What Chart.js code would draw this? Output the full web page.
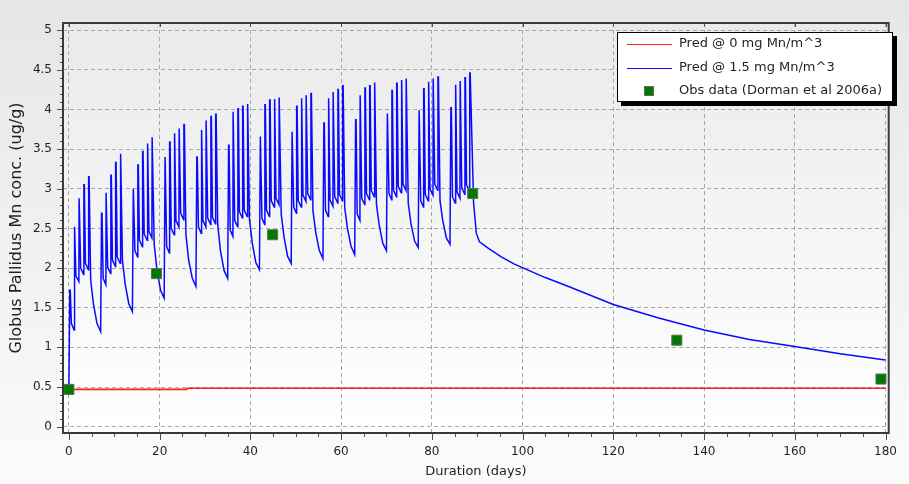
<!DOCTYPE html>
<html>
<head>
<meta charset="utf-8">
<script src="https://cdn.jsdelivr.net/npm/chart.js@4.4.1/dist/chart.umd.min.js"></script>
<style>
  html, body { margin: 0; padding: 0; background: #fff; }
  #wrap { width: 909px; height: 484px; }
</style>
</head>
<body>
<div id="wrap"><canvas id="mnChart" width="909" height="484"></canvas></div>
<script>
// ---- data ----
// red line: unexposed prediction
const baseDays = [0, 26, 26.1, 180];
const baseConc = [0.47, 0.47, 0.485, 0.485];

// blue line: 13 exposure weeks, 5 exposure days each
const weekStarts = [0, 7, 14, 21, 28, 35, 42, 49, 56, 63, 70, 77, 84];
const doseOffsets = [0.2, 1.2, 2.25, 3.3, 4.35];
const peakHold = 0.1;   // width of each spike top, days
const weekStartLevel = [0.48, 1.20, 1.45, 1.62, 1.77, 1.87, 1.98, 2.06, 2.12, 2.17, 2.22, 2.26, 2.30];
const weekPeaks = [
    [1.72, 2.52, 2.88, 3.05, 3.15],
    [2.69, 2.95, 3.17, 3.33, 3.44],
    [3.00, 3.30, 3.47, 3.57, 3.65],
    [3.40, 3.59, 3.70, 3.76, 3.81],
    [3.40, 3.74, 3.86, 3.91, 3.94],
    [3.55, 3.97, 4.01, 4.04, 4.07],
    [3.66, 4.06, 4.12, 4.13, 4.15],
    [3.72, 4.04, 4.14, 4.18, 4.20],
    [3.83, 4.14, 4.22, 4.25, 4.30],
    [3.87, 4.18, 4.27, 4.30, 4.34],
    [3.95, 4.24, 4.33, 4.37, 4.39],
    [3.99, 4.26, 4.35, 4.39, 4.41],
    [4.02, 4.31, 4.36, 4.40, 4.46]
];
// level reached after the fall that follows each of the first four peaks
const weekDrops = [
    [1.30, 1.90, 2.00, 2.06],
    [1.87, 2.01, 2.10, 2.14],
    [2.22, 2.35, 2.43, 2.46],
    [2.27, 2.50, 2.60, 2.69],
    [2.52, 2.60, 2.63, 2.64],
    [2.48, 2.60, 2.71, 2.73],
    [2.63, 2.73, 2.85, 2.88],
    [2.77, 2.85, 2.92, 2.94],
    [2.73, 2.86, 2.90, 2.93],
    [2.68, 2.88, 2.94, 2.98],
    [2.94, 2.98, 3.03, 3.06],
    [2.85, 2.93, 3.00, 3.06],
    [2.90, 2.96, 3.01, 3.05]
];
// trough just before the next dose
const weekLows = [
    [1.22, 1.83, 1.92, 1.98],
    [1.79, 1.93, 2.02, 2.06],
    [2.14, 2.27, 2.35, 2.38],
    [2.19, 2.42, 2.52, 2.61],
    [2.44, 2.52, 2.55, 2.56],
    [2.40, 2.52, 2.63, 2.65],
    [2.55, 2.65, 2.77, 2.80],
    [2.69, 2.77, 2.84, 2.86],
    [2.65, 2.78, 2.82, 2.85],
    [2.60, 2.80, 2.86, 2.90],
    [2.86, 2.90, 2.95, 2.98],
    [2.77, 2.85, 2.92, 2.98],
    [2.82, 2.88, 2.93, 2.97]
];
const weekendOffsets = [4.8, 5.4, 6.2];
const weekendLevels = [
    [1.85, 1.55, 1.30],
    [2.10, 1.80, 1.55],
    [2.30, 1.98, 1.72],
    [2.42, 2.10, 1.87],
    [2.55, 2.22, 1.97],
    [2.62, 2.32, 2.07],
    [2.68, 2.40, 2.15],
    [2.72, 2.45, 2.22],
    [2.76, 2.50, 2.27],
    [2.80, 2.54, 2.31],
    [2.82, 2.56, 2.34],
    [2.85, 2.60, 2.38]
];
// after the last exposure
const washoutDays = [89.2, 89.8, 90.5, 92.4, 95.3, 98.2, 105, 110, 120, 130, 140, 150, 160, 170, 180];
const washoutConc = [2.82, 2.44, 2.33, 2.25, 2.14, 2.05, 1.88, 1.77, 1.54, 1.37, 1.22, 1.10, 1.01, 0.92, 0.84];

// green squares
const obsDays = [0, 19.3, 44.9, 89, 134, 179];
const obsConc = [0.47, 1.93, 2.42, 2.94, 1.09, 0.60];

const xTicks = [0, 20, 40, 60, 80, 100, 120, 140, 160, 180];
const yTicks = [0, 0.5, 1, 1.5, 2, 2.5, 3, 3.5, 4, 4.5, 5];

// ---- build point lists ----
const basePoints = baseDays.map((d, i) => ({ x: d, y: baseConc[i] }));

const exposedPoints = [];
weekStarts.forEach((d0, w) => {
    exposedPoints.push({ x: d0, y: weekStartLevel[w] });
    doseOffsets.forEach((off, i) => {
        if (i > 0) {
            exposedPoints.push({ x: d0 + doseOffsets[i - 1] + 0.35, y: weekDrops[w][i - 1] });
            exposedPoints.push({ x: d0 + off - 0.05, y: weekLows[w][i - 1] });
        }
        exposedPoints.push({ x: d0 + off, y: weekPeaks[w][i] });
        exposedPoints.push({ x: d0 + off + peakHold, y: weekPeaks[w][i] });
    });
    if (w < weekendLevels.length) {
        weekendOffsets.forEach((off, i) => exposedPoints.push({ x: d0 + off, y: weekendLevels[w][i] }));
    }
});
washoutDays.forEach((d, i) => exposedPoints.push({ x: d, y: washoutConc[i] }));

const obsPoints = obsDays.map((d, i) => ({ x: d, y: obsConc[i] }));

const FONT = '"DejaVu Sans", sans-serif';
const TEXT = '#1f1f1f';

// background gradients behind everything
const backdrop = {
    id: 'backdrop',
    beforeDraw(chart) {
        const { ctx, width, height, chartArea: a } = chart;
        ctx.save();
        let g = ctx.createLinearGradient(0, 0, 0, height);
        g.addColorStop(0, '#e6e6e6');
        g.addColorStop(1, '#fbfbfb');
        ctx.fillStyle = g;
        ctx.fillRect(0, 0, width, height);
        g = ctx.createLinearGradient(0, a.top, 0, a.bottom);
        g.addColorStop(0, '#eaeaea');
        g.addColorStop(1, '#ffffff');
        ctx.fillStyle = g;
        ctx.fillRect(a.left, a.top, a.right - a.left, a.bottom - a.top);
        ctx.restore();
    }
};

// plot frame, major + minor tick marks
const frame = {
    id: 'frame',
    afterDatasetsDraw(chart) {
        const { ctx, chartArea: a, scales: { x, y } } = chart;
        ctx.save();
        ctx.strokeStyle = '#505050';
        ctx.lineWidth = 1;
        for (let k = 0; k <= 50; k++) {
            const py = Math.round(y.getPixelForValue(k / 10)) + 0.5;
            const len = k % 5 === 0 ? 6 : 3;
            ctx.beginPath();
            ctx.moveTo(a.left - len, py);
            ctx.lineTo(a.left, py);
            ctx.stroke();
        }
        for (let k = 0; k <= 36; k++) {
            const px = Math.round(x.getPixelForValue(k * 5)) + 0.5;
            const major = k % 4 === 0;
            ctx.beginPath();
            ctx.moveTo(px, a.bottom);
            ctx.lineTo(px, a.bottom + (major ? 7 : 4));
            ctx.stroke();
            if (major) {
                ctx.beginPath();
                ctx.moveTo(px, a.top);
                ctx.lineTo(px, a.top + 4);
                ctx.stroke();
            }
        }
        ctx.strokeStyle = '#3a3a3a';
        ctx.lineWidth = 2;
        ctx.strokeRect(a.left, a.top, a.right - a.left, a.bottom - a.top);
        ctx.restore();
    }
};

// boxed legend with drop shadow, top right
const legendBox = {
    id: 'legendBox',
    afterDraw(chart) {
        const ctx = chart.ctx;
        const L = 617, T = 32, W = 276, H = 70;
        ctx.save();
        ctx.fillStyle = '#000';
        ctx.fillRect(L + 4, T + 4, W, H);
        ctx.fillStyle = '#fff';
        ctx.fillRect(L, T, W, H);
        ctx.strokeStyle = '#000';
        ctx.lineWidth = 1;
        ctx.strokeRect(L + 0.5, T + 0.5, W - 1, H - 1);
        ctx.font = '13px ' + FONT;
        ctx.textBaseline = 'middle';
        chart.data.datasets.forEach((ds, i) => {
            const cy = T + 12 + i * 23.5;
            if (ds.showLine === false) {
                ctx.fillStyle = ds.backgroundColor;
                ctx.fillRect(644, cy - 5, 10, 10);
                ctx.strokeStyle = ds.borderColor;
                ctx.strokeRect(644.5, cy - 4.5, 9, 9);
            } else {
                ctx.strokeStyle = ds.borderColor;
                ctx.lineWidth = 1;
                ctx.beginPath();
                ctx.moveTo(627, Math.round(cy) + 0.5);
                ctx.lineTo(672, Math.round(cy) + 0.5);
                ctx.stroke();
            }
            ctx.fillStyle = TEXT;
            ctx.fillText(ds.label, 679, cy);
        });
        ctx.restore();
    }
};

Chart.register(backdrop, frame, legendBox);

new Chart(document.getElementById('mnChart'), {
    type: 'line',
    data: {
        datasets: [
            {
                label: 'Pred @ 0 mg Mn/m^3',
                data: basePoints,
                borderColor: '#ff1f1f',
                borderWidth: 1.6,
                pointRadius: 0,
                order: 2
            },
            {
                label: 'Pred @ 1.5 mg Mn/m^3',
                data: exposedPoints,
                borderColor: '#0a0aff',
                borderWidth: 1.5,
                pointRadius: 0,
                order: 1
            },
            {
                label: 'Obs data (Dorman et al 2006a)',
                data: obsPoints,
                showLine: false,
                pointStyle: 'rect',
                pointRadius: 7.1,
                backgroundColor: '#007a00',
                borderColor: '#5f6f5f',
                borderWidth: 1,
                order: 0
            }
        ]
    },
    options: {
        responsive: false,
        animation: false,
        devicePixelRatio: 1,
        layout: { padding: { top: 23, right: 9, left: 0, bottom: 0 } },
        plugins: {
            legend: { display: false },
            tooltip: { enabled: false }
        },
        scales: {
            x: {
                type: 'linear',
                min: -1.3,
                max: 180.7,
                afterFit(s) { s.height = 51; },
                afterBuildTicks(s) { s.ticks = xTicks.map(v => ({ value: v })); },
                ticks: {
                    padding: 12,
                    color: TEXT,
                    font: { family: FONT, size: 12 },
                    maxRotation: 0,
                    callback: v => String(v)
                },
                grid: { color: '#a8a8a8', lineWidth: 1, drawTicks: false },
                border: { display: false, dash: [4, 3] },
                title: {
                    display: true,
                    text: 'Duration (days)',
                    color: TEXT,
                    font: { family: FONT, size: 13 },
                    padding: { top: 0, bottom: 5 }
                }
            },
            y: {
                type: 'linear',
                min: -0.08,
                max: 5.09,
                afterFit(s) { s.width = 63; },
                afterBuildTicks(s) { s.ticks = yTicks.map(v => ({ value: v })); },
                ticks: {
                    padding: 11,
                    color: TEXT,
                    font: { family: FONT, size: 12 },
                    callback: v => String(v)
                },
                grid: { color: '#a8a8a8', lineWidth: 1, drawTicks: false },
                border: { display: false, dash: [4, 3] },
                title: {
                    display: true,
                    text: 'Globus Pallidus Mn conc. (ug/g)',
                    color: TEXT,
                    font: { family: FONT, size: 16 },
                    padding: { top: 7, bottom: 0 }
                }
            }
        }
    }
});
</script>
</body>
</html>
